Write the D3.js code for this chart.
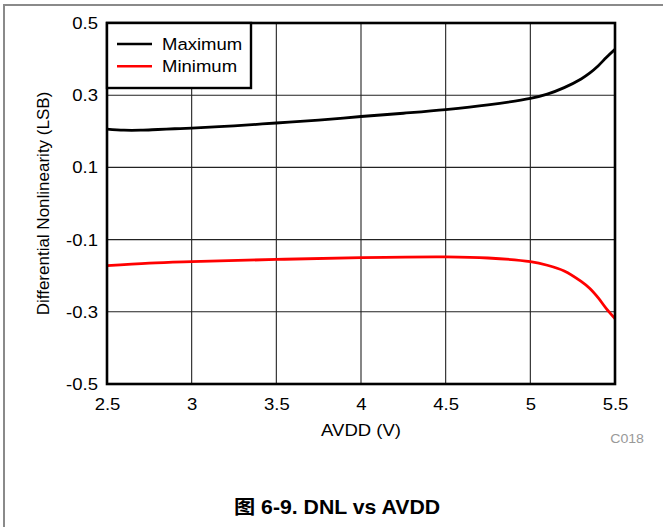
<!DOCTYPE html>
<html><head><meta charset="utf-8">
<script src="https://cdn.jsdelivr.net/npm/d3@7"></script>
<style>body{margin:0;background:#fff;}svg{display:block;font-family:"Liberation Sans",Arial,sans-serif;}</style>
</head><body>
<script>
const xMax = [2.5,2.6,2.7,2.8,2.9,3.0,3.25,3.5,3.75,4.0,4.25,4.5,4.75,5.0,5.1,5.2,5.3,5.35,5.4,5.45,5.5];
const yMax = [0.206,0.203,0.203,0.205,0.207,0.209,0.215,0.223,0.231,0.241,0.250,0.260,0.273,0.291,0.303,0.321,0.345,0.361,0.381,0.405,0.427];
const xMin = [2.5,2.75,3.0,3.5,4.0,4.5,4.75,5.0,5.1,5.2,5.3,5.35,5.4,5.45,5.5];
const yMin = [-0.172,-0.165,-0.161,-0.155,-0.150,-0.148,-0.151,-0.161,-0.171,-0.187,-0.216,-0.235,-0.261,-0.292,-0.319];
const xTicks = [2.5,3,3.5,4,4.5,5,5.5];
const yTicks = [-0.5,-0.3,-0.1,0.1,0.3,0.5];
const seriesNames = ["Maximum","Minimum"];
const seriesColors = ["#000000","#ff0000"];

const W=663,H=527;
const L=107,R=615,T=23,B=384;
const SX=1.09;
const svg=d3.select("body").append("svg").attr("width",W).attr("height",H);
svg.append("rect").attr("width",W).attr("height",H).attr("fill","#fff");
svg.append("path").attr("d",`M4,${H+5} L4,5 L${W+5},5`).attr("fill","none").attr("stroke","#8a8a8a").attr("stroke-width",2);

const x=d3.scaleLinear().domain([2.5,5.5]).range([L,R]);
const y=d3.scaleLinear().domain([-0.5,0.5]).range([B,T]);

function htext(px,py,str,size,anchor,opts){
  const t=svg.append("text").attr("transform",`translate(${px},${py}) scale(${SX},1)`)
   .attr("text-anchor",anchor||"start").attr("font-size",size).text(str);
  if(opts){Object.keys(opts).forEach(k=>t.attr(k,opts[k]));}
  return t;
}

const g=svg.append("g");
g.selectAll(".vg").data(xTicks.slice(1,-1)).join("line")
 .attr("x1",d=>x(d)).attr("x2",d=>x(d)).attr("y1",T).attr("y2",B)
 .attr("stroke","#222").attr("stroke-width",1.1);
g.selectAll(".hg").data(yTicks.slice(1,-1)).join("line")
 .attr("y1",d=>y(d)).attr("y2",d=>y(d)).attr("x1",L).attr("x2",R)
 .attr("stroke","#222").attr("stroke-width",1.1);

const fmt=d=>String(d);
const xAxis=svg.append("g").attr("transform",`translate(0,${B})`)
 .call(d3.axisBottom(x).tickValues(xTicks).tickSize(0).tickPadding(14).tickFormat(fmt));
const yAxis=svg.append("g").attr("transform",`translate(${L},0)`)
 .call(d3.axisLeft(y).tickValues(yTicks).tickSize(0).tickPadding(9).tickFormat(fmt));
[xAxis,yAxis].forEach(a=>{a.select(".domain").remove();a.selectAll("text").attr("font-size",17).attr("fill","#000")
  .attr("font-family","Liberation Sans, Arial, sans-serif");});
xAxis.selectAll("text").attr("transform",`scale(${SX},1)`);
yAxis.selectAll("text").each(function(){
  const t=d3.select(this); const xx=+t.attr("x");
  t.attr("x",xx/SX).attr("transform",`scale(${SX},1)`);
});

const line=d3.line().curve(d3.curveCatmullRom.alpha(0.5)).x(d=>x(d[0])).y(d=>y(d[1]));
svg.append("clipPath").attr("id","c").append("rect").attr("x",L).attr("y",T).attr("width",R-L).attr("height",B-T);
svg.append("path").datum(xMax.map((v,i)=>[v,yMax[i]])).attr("d",line).attr("fill","none")
 .attr("stroke",seriesColors[0]).attr("stroke-width",2.8).attr("clip-path","url(#c)");
svg.append("path").datum(xMin.map((v,i)=>[v,yMin[i]])).attr("d",line).attr("fill","none")
 .attr("stroke",seriesColors[1]).attr("stroke-width",2.8).attr("clip-path","url(#c)");

svg.append("rect").attr("x",L).attr("y",T).attr("width",R-L).attr("height",B-T)
 .attr("fill","none").attr("stroke","#000").attr("stroke-width",2.6);

svg.append("rect").attr("x",L).attr("y",T).attr("width",251-L).attr("height",88-T)
 .attr("fill","#fff").attr("stroke","#000").attr("stroke-width",2.4);
seriesNames.forEach((n,i)=>{
  const yy=44+i*22.3;
  svg.append("line").attr("x1",117).attr("x2",152).attr("y1",yy).attr("y2",yy)
    .attr("stroke",seriesColors[i]).attr("stroke-width",2.4);
  htext(162,yy+6,n,17,"start");
});

htext((L+R)/2,436,"AVDD (V)",17,"middle");
svg.append("text").attr("transform",`translate(49,${(T+B)/2}) rotate(-90)`).attr("text-anchor","middle").attr("font-size",17).text("Differential Nonlinearity (LSB)");
htext(644,443,"C018",13,"end",{fill:"#999"});
htext(337,514,"图 6-9. DNL vs AVDD",19.5,"middle",{"font-weight":"bold","font-family":"'Liberation Sans','Noto Sans CJK SC',sans-serif"});
</script>
</body></html>
